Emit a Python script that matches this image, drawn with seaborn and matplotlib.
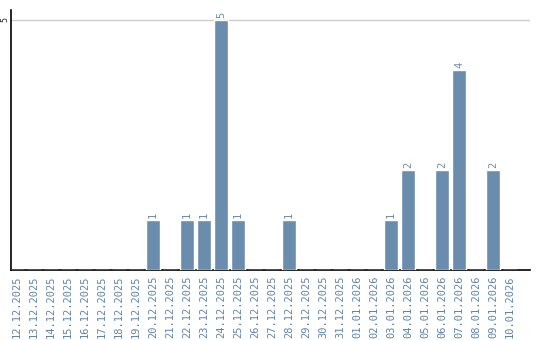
import matplotlib
matplotlib.use("Agg")
import matplotlib.pyplot as plt
import seaborn as sns
import pandas as pd

dates = ["12.12.2025", "13.12.2025", "14.12.2025", "15.12.2025", "16.12.2025",
         "17.12.2025", "18.12.2025", "19.12.2025", "20.12.2025", "21.12.2025",
         "22.12.2025", "23.12.2025", "24.12.2025", "25.12.2025", "26.12.2025",
         "27.12.2025", "28.12.2025", "29.12.2025", "30.12.2025", "31.12.2025",
         "01.01.2026", "02.01.2026", "03.01.2026", "04.01.2026", "05.01.2026",
         "06.01.2026", "07.01.2026", "08.01.2026", "09.01.2026", "10.01.2026"]
counts = [0, 0, 0, 0, 0, 0, 0, 0, 1, 0,
          1, 1, 5, 1, 0, 0, 1, 0, 0, 0,
          0, 0, 1, 2, 0, 2, 4, 0, 2, 0]

df = pd.DataFrame({"date": dates, "count": counts})

sns.set_style("white")
plt.rcParams["font.family"] = ["DejaVu Sans Mono", "DejaVu Sans"]

bar_color = "#6a8cad"
label_color = "#6a8cad"

fig = plt.figure(figsize=(5.4, 3.4), dpi=100)
ax = fig.add_axes([11 / 540, 1 - 270 / 340, 519 / 540, 260 / 340])

sns.barplot(data=df, x="date", y="count", color=bar_color, width=0.82,
            saturation=1, ax=ax, zorder=3)

ax.set_xlim(-0.35, 30.18)
ax.set_ylim(0, 5.2)
ax.set_yticks([5])
ax.set_yticklabels(["5"], rotation=90, va="center", fontsize=6)
ax.yaxis.grid(True, color="#cccccc", linewidth=1, zorder=0)
ax.set_xlabel("")
ax.set_ylabel("")
ax.tick_params(axis="x", length=0, pad=4)
ax.tick_params(axis="y", length=0, pad=1)
ax.set_xticks(range(len(dates)))
ax.set_xticklabels(dates, rotation=90, fontsize=7.5, color="#5f83a8")

for i, v in enumerate(counts):
    if v > 0:
        ax.text(i, v + 0.04, str(v), rotation=90, ha="center", va="bottom",
                fontsize=7.5, color=label_color)

for s in ["top", "right"]:
    ax.spines[s].set_visible(False)
for s in ["left", "bottom"]:
    ax.spines[s].set_color("black")
    ax.spines[s].set_linewidth(1.2)

fig.savefig("out.png", dpi=100)
